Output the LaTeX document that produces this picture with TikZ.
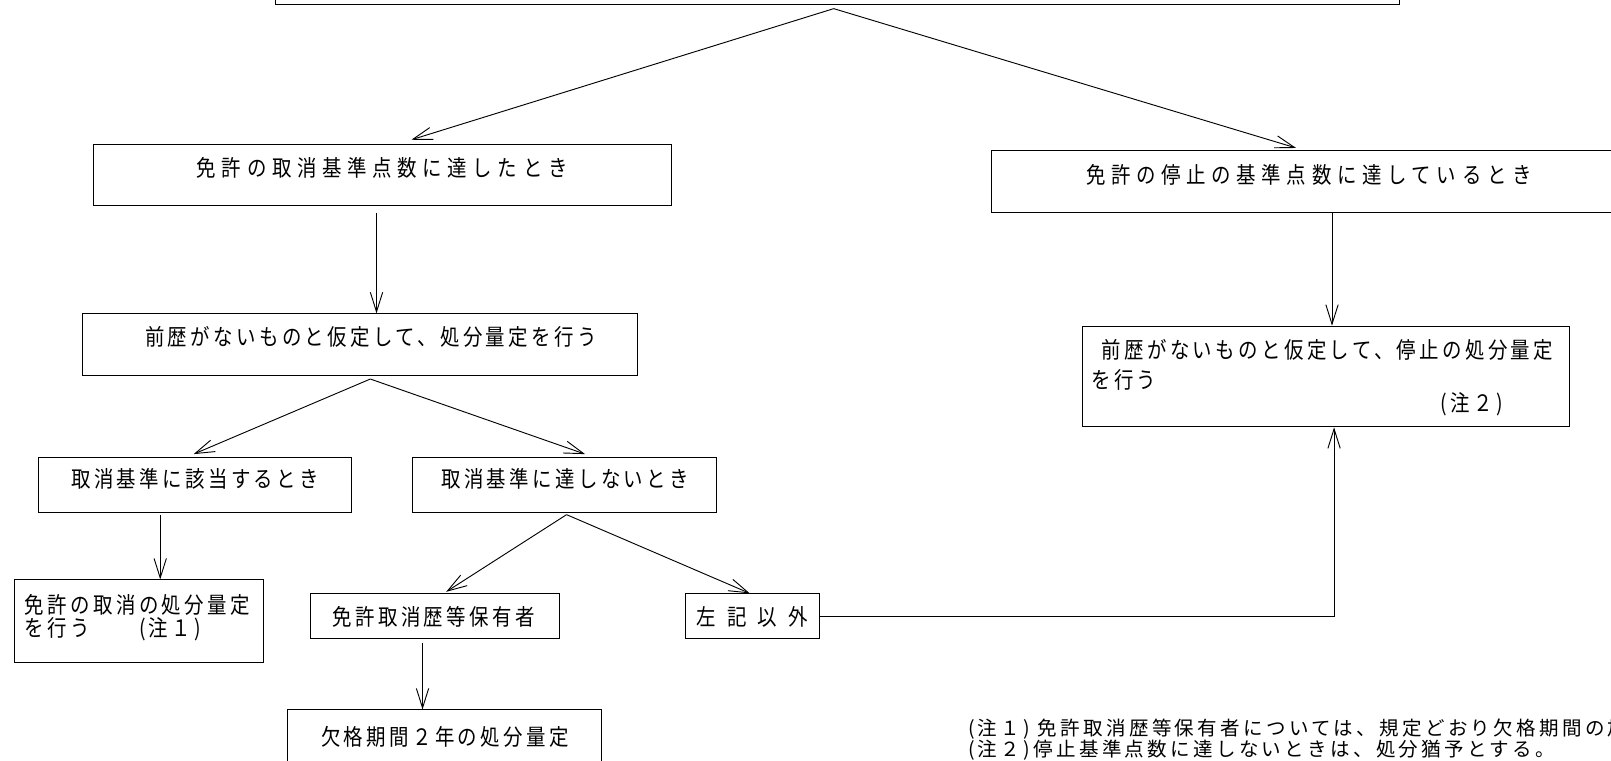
\documentclass[tikz,border=0pt]{standalone}
\usepackage{fontspec}
\setmainfont{Noto Sans CJK JP}
\newfontfamily\jp[LetterSpace=15,FakeStretch=0.86]{Noto Sans CJK JP}
\newfontfamily\jpw[LetterSpace=25,FakeStretch=0.86]{Noto Sans CJK JP}
\newfontfamily\jpx[LetterSpace=30,FakeStretch=0.86]{Noto Sans CJK JP}
\newfontfamily\jpn[LetterSpace=17]{Noto Sans CJK JP}
\usetikzlibrary{arrows.meta,calc}
\tikzset{
  box/.style={draw, line width=0.9pt, inner sep=0pt, anchor=north west},
  txt/.style={inner sep=0pt, font=\jp\fontsize{22pt}{26pt}\selectfont},
  txtw/.style={inner sep=0pt, font=\jpw\fontsize{22pt}{26pt}\selectfont},
  txtx/.style={inner sep=0pt, font=\jpx\fontsize{22pt}{26pt}\selectfont},
  note/.style={inner sep=0pt, anchor=west, font=\jpn\fontsize{19pt}{23pt}\selectfont},
  arr/.style={line width=0.9pt, -{Straight Barb[length=19pt,width=12pt]}}
}
\begin{document}
\begin{tikzpicture}[x=1pt,y=-1pt]
\useasboundingbox (0,0) rectangle (1568,740);
\clip (0,0) rectangle (1568,740);
% boxes
\node[box, minimum width=1094pt, minimum height=64pt] (top) at (268,-60) {};
\node[box, minimum width=562pt, minimum height=60pt] (A) at (91,140) {};
\node[box, minimum width=615pt, minimum height=60pt] (B) at (965,146) {};
\node[box, minimum width=540pt, minimum height=60pt] (C) at (80,305) {};
\node[box, minimum width=474pt, minimum height=98pt] (D) at (1053,317) {};
\node[box, minimum width=305pt, minimum height=53pt] (E) at (37,445) {};
\node[box, minimum width=296pt, minimum height=53pt] (F) at (401,445) {};
\node[box, minimum width=242pt, minimum height=80pt] (G) at (14,564) {};
\node[box, minimum width=241.6pt, minimum height=43.5pt] (H) at (302,577.5) {};
\node[box, minimum width=130.6pt, minimum height=43.5pt] (I) at (667,577.5) {};
\node[box, minimum width=306pt, minimum height=60pt] (J) at (279,690.5) {};
% texts
\node[txtw] (tA) at (372,163) {免許の取消基準点数に達したとき};
\node[txtw] (tB) at (1274,170) {免許の停止の基準点数に達しているとき};
\node[txt] (tC) at (361,328) {前歴がないものと仮定して、処分量定を行う};
\node[txt, anchor=west] (tD1) at (1072,341) {前歴がないものと仮定して、停止の処分量定};
\node[txt, anchor=west] (tD2) at (1062,370) {を行う};
\node[txt, anchor=west] (tD3) at (1402,393) {(注２)};
\node[txt] (tE) at (190,466) {取消基準に該当するとき};
\node[txt] (tF) at (550,466) {取消基準に達しないとき};
\node[txt, anchor=west] (tG1) at (24,589) {免許の取消の処分量定};
\node[txt, anchor=west] (tG2) at (24,612.5) {を行う　　(注１)};
\node[txt] (tH) at (422,600) {免許取消歴等保有者};
\node[txtx] (tI) at (732,600) {左 記 以 外};
\node[txt] (tJ) at (433,717) {欠格期間２年の処分量定};
\node[note] (n1) at (942,710) {(注１) 免許取消歴等保有者については、規定どおり欠格期間の加};
\node[note] (n2) at (942,730) {(注２)停止基準点数に達しないときは、処分猶予とする。};
% connectors
\draw[arr] ([xshift=-4pt,yshift=-3.5pt]top.south) -- ([xshift=28pt,yshift=4pt]A.north);
\draw[arr] ([xshift=-4pt,yshift=-3.5pt]top.south) -- ([xshift=-11.5pt,yshift=2pt]B.north);
\draw[arr] ([xshift=-6pt,yshift=-6pt]A.south) -- ([xshift=-6pt]A.south |- C.north);
\draw[arr] ([xshift=6pt]D.north |- B.south) -- ([xshift=6pt]D.north);
\draw[arr] ([xshift=10pt,yshift=-3pt]C.south) -- ([xshift=-1.5pt,yshift=3pt]E.north);
\draw[arr] ([xshift=10pt,yshift=-3pt]C.south) -- ([xshift=20pt,yshift=3pt]F.north);
\draw[arr] ([xshift=-34pt,yshift=-2pt]E.south) -- ([xshift=-34pt]E.south |- G.north);
\draw[arr] ([xshift=2pt,yshift=-2pt]F.south) -- ([xshift=11pt,yshift=1.5pt]H.north);
\draw[arr] ([xshift=2pt,yshift=-2pt]F.south) -- ([xshift=-3pt]I.north);
\draw[arr] ([xshift=-12pt,yshift=-3.5pt]H.south) -- ([xshift=-12pt]H.south |- J.north);
\draw[arr] (I.east) -| ([xshift=8pt]D.south);
\end{tikzpicture}
\end{document}
